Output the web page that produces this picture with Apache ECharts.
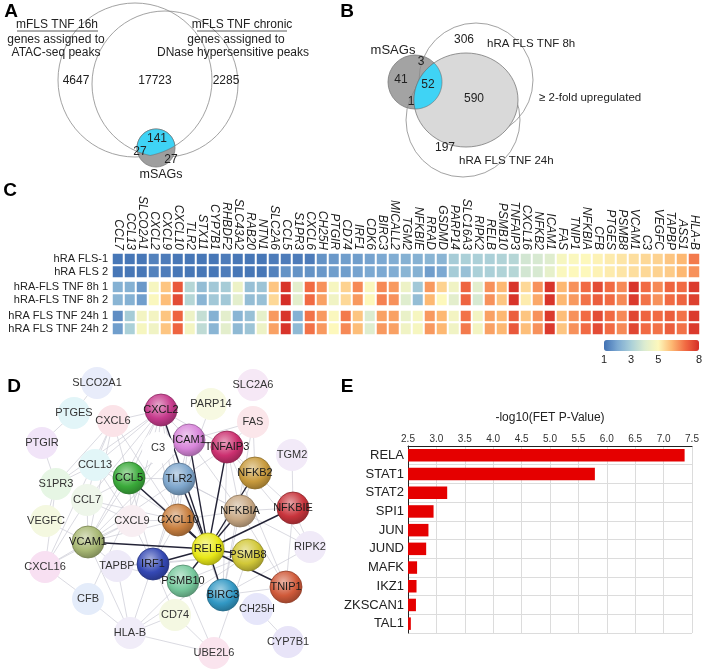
<!DOCTYPE html>
<html><head><meta charset="utf-8">
<script src="https://cdn.jsdelivr.net/npm/echarts@6/dist/echarts.min.js"></script>
<style>html,body{margin:0;padding:0;background:#fff}#c{width:708px;height:669px}</style>
</head><body><div id="c"></div>
<script>
// ---------------- DATA ----------------
const genes = ['CCL7','CCL13','SLCO2A1','CXCL2','CXCL9','CXCL10','TLR2','STX11','CYP7B1','RHBDF2','SLC43A2','RAB20','NTN1','SLC2A6','CCL5','S1PR3','CXCL6','CH25H','PTGIR','CD74','IRF1','CDK6','BIRC3','MICALL2','TGM2','NFKBIE','RRAD','GSDMD','PARP14','SLC16A3','RIPK2','RELB','PSMB10','TNFAIP3','CXCL16','NFKB2','ICAM1','FAS','TNIP1','NFKBIA','CFB','PTGES','PSMB8','VCAM1','C3','VEGFC','TAPBP','ASS1','HLA-B'];
const rowLabels = ['hRA FLS-1','hRA FLS 2','hRA-FLS TNF 8h 1','hRA-FLS TNF 8h 2','hRA FLS TNF 24h 1','hRA FLS TNF 24h 2'];
const rowFLS1 = [1.1,1.1,1.1,1.3,1.2,1.1,1.1,1.1,1.1,1.2,1.1,1.1,1.1,1.2,1.2,1.2,1.2,1.6,1.7,1.8,1.8,1.9,2.0,2.1,2.2,2.2,2.3,2.3,2.9,3.0,3.0,3.0,3.1,3.2,3.8,3.9,4.1,4.8,4.9,5.0,5.1,5.2,5.3,5.4,5.5,5.6,5.8,6.0,6.8];
const rowFLS2 = [1.1,1.1,1.1,1.3,1.2,1.1,1.1,1.1,1.1,1.2,1.1,1.1,1.1,1.3,1.6,1.6,1.6,1.7,1.8,1.8,1.9,2.0,2.0,2.1,2.3,2.2,1.8,2.0,2.9,2.6,3.0,3.0,3.1,3.2,3.8,3.9,4.3,4.9,5.0,5.0,5.1,5.2,5.3,5.4,5.5,5.6,5.7,6.0,6.5];
const rowTNF8h1 = [2.2,2.2,1.7,4.8,5.8,7.3,3.2,2.5,2.8,2.9,4.5,2.6,2.7,5.8,7.9,4.2,7.0,6.5,4.8,5.6,6.6,4.9,6.6,6.4,4.5,2.8,6.4,5.6,4.6,7.1,4.2,6.5,6.0,7.9,5.5,6.5,7.9,6.0,6.5,7.0,7.5,7.0,6.6,7.9,7.0,6.6,7.1,7.0,7.8];
const rowTNF8h2 = [2.3,2.2,1.8,4.9,5.9,7.5,3.2,2.3,2.8,2.8,4.2,2.5,2.6,5.5,8.0,4.2,7.0,6.3,4.6,5.5,6.4,5.0,6.7,6.5,4.1,2.5,6.0,5.0,4.2,7.1,3.9,6.5,5.8,7.9,5.2,6.2,7.9,6.0,6.4,6.9,7.2,7.0,6.6,7.8,6.9,6.5,7.0,7.1,7.7];
const rowTNF24h1 = [1.5,2.9,4.7,4.7,5.8,7.1,4.5,3.5,2.2,4.2,2.3,2.6,4.3,6.4,7.9,2.2,6.9,6.4,4.9,6.8,5.8,4.0,6.3,6.3,4.4,4.8,6.4,6.0,4.7,6.9,4.7,6.3,6.0,7.2,5.8,6.5,7.8,5.9,6.5,7.0,7.5,7.0,6.6,7.6,7.1,7.0,7.2,6.9,7.8];
const rowTNF24h2 = [1.8,3.0,4.8,4.6,5.8,7.1,4.7,3.4,2.3,4.2,2.4,2.7,4.5,6.3,7.9,2.4,6.9,6.4,5.0,6.6,5.9,4.1,6.4,6.3,4.6,4.8,6.4,6.0,4.6,6.8,4.7,6.3,6.0,7.3,5.9,6.5,7.8,5.8,6.5,7.0,7.5,7.0,6.6,7.6,7.0,6.9,7.2,6.9,7.8];
const colorbarTicks = [1,3,5,8];

const tfNames = ['RELA','STAT1','STAT2','SPI1','JUN','JUND','MAFK','IKZ1','ZKSCAN1','TAL1'];
const tfValues = [7.37,5.79,3.19,2.95,2.86,2.82,2.66,2.65,2.64,2.55];

const vennACounts = [4647,17723,2285,141,27,27];
const vennBCounts = [306,3,41,52,590,1,197];

const netNodes = ['SLCO2A1','SLC2A6','PARP14','PTGES','CXCL6','CXCL2','FAS','ICAM1','TNFAIP3','PTGIR','C3','TGM2','CCL13','CCL5','TLR2','NFKB2','S1PR3','CCL7','NFKBIE','NFKBIA','CXCL10','CXCL9','VEGFC','VCAM1','RELB','PSMB8','RIPK2','IRF1','TAPBP','CXCL16','PSMB10','TNIP1','BIRC3','CFB','CH25H','CD74','HLA-B','CYP7B1','UBE2L6'];
const netX = [97,253,211,74,113,161,253,189,227,42,158,292,95,129,179,255,56,87,293,240,178,132,46,88,208,248,310,153,117,45,183,286,223,88,257,175,130,288,214];
const netY = [383,385,404,413,421,410,422,440,447,443,448,455,465,478,479,473,484,500,508,511,520,521,521,542,549,555,547,564,566,567,581,587,595,599,609,615,633,642,653];
const netColors = ['#e8ecfa','#f6e8f6','#f7f9e2','#e2f5f8','#fbe3e8','#c63a8c','#fbe6ea','#d886da','#cc3070','#f1e4f8','#ffffff','#f2eaf8','#e2f6f8','#3aaa3a','#7ea6cc','#c89a3c','#e6f6e4','#eef6ea','#c8343c','#c8a884','#c98040','#f8eef2','#f4f8e0','#a8b874','#e8e818','#d2c838','#f0eaf8','#3448b4','#eeeaf8','#f8e0f2','#76c89c','#d05a3a','#3298c4','#e4ecfa','#e6e6fa','#f4f8e2','#f0ecf8','#e8e4f8','#fae4ee'];
const netStrong = ['CXCL2','ICAM1','TNFAIP3','CCL5','TLR2','NFKB2','NFKBIE','NFKBIA','CXCL10','VCAM1','RELB','PSMB8','IRF1','PSMB10','TNIP1','BIRC3'];
const hubEdges = ['CXCL2','ICAM1','TNFAIP3','TLR2','CCL5','CXCL10','NFKB2','NFKBIA','NFKBIE','PSMB8','TNIP1','BIRC3','PSMB10','IRF1','VCAM1'];
const grayEdges = [
 ['CXCL2','CXCL6'],['CXCL2','CCL5'],['CXCL2','CXCL10'],['CXCL2','ICAM1'],['CXCL2','TLR2'],['CXCL2','C3'],['CXCL2','CCL7'],['CXCL2','CCL13'],['CXCL2','VCAM1'],['CXCL2','TNFAIP3'],['CXCL2','CXCL9'],['CXCL2','S1PR3'],
 ['CXCL6','CCL5'],['CXCL6','CXCL10'],['CXCL6','CCL13'],['CXCL6','S1PR3'],['CXCL6','VCAM1'],['CXCL6','CXCL16'],['PTGES','PTGIR'],['PTGES','SLCO2A1'],['PTGIR','S1PR3'],
 ['S1PR3','CXCL16'],['S1PR3','VEGFC'],['S1PR3','CCL13'],['CCL13','CCL5'],['CCL13','CCL7'],['CCL13','CXCL9'],['CCL13','CXCL10'],['CCL7','CCL5'],['CCL7','CXCL9'],['CCL7','CXCL10'],['CCL7','VCAM1'],['CCL7','CXCL16'],
 ['CCL5','CXCL9'],['CCL5','CXCL10'],['CCL5','TLR2'],['CCL5','VCAM1'],['CCL5','ICAM1'],['CCL5','IRF1'],['CXCL9','CXCL10'],['CXCL9','IRF1'],['CXCL9','VCAM1'],['CXCL9','CXCL16'],
 ['CXCL10','IRF1'],['CXCL10','TLR2'],['CXCL10','ICAM1'],['CXCL10','VCAM1'],['CXCL10','NFKBIA'],['VCAM1','ICAM1'],['VCAM1','CXCL16'],['VCAM1','VEGFC'],['VCAM1','TAPBP'],['VCAM1','HLA-B'],['VCAM1','TNFAIP3'],
 ['ICAM1','TNFAIP3'],['ICAM1','TLR2'],['ICAM1','NFKBIA'],['ICAM1','FAS'],['TNFAIP3','NFKBIA'],['TNFAIP3','TNIP1'],['TNFAIP3','NFKB2'],['TNFAIP3','BIRC3'],['TNFAIP3','RIPK2'],
 ['NFKB2','NFKBIA'],['NFKB2','NFKBIE'],['NFKBIA','NFKBIE'],['NFKBIA','BIRC3'],['NFKBIA','TNIP1'],['NFKBIE','RIPK2'],['NFKBIE','TNIP1'],['FAS','TNFAIP3'],['FAS','BIRC3'],['PARP14','IRF1'],
 ['TLR2','NFKBIA'],['TLR2','IRF1'],['TLR2','BIRC3'],['TLR2','RIPK2'],['IRF1','PSMB10'],['IRF1','PSMB8'],['IRF1','TAPBP'],['IRF1','HLA-B'],['IRF1','CD74'],['PSMB10','PSMB8'],['PSMB10','TAPBP'],
 ['PSMB10','HLA-B'],['PSMB10','UBE2L6'],['PSMB8','TAPBP'],['PSMB8','HLA-B'],['PSMB8','UBE2L6'],['TAPBP','HLA-B'],['CD74','HLA-B'],['CFB','HLA-B'],['C3','CFB'],['C3','CXCL10'],['CH25H','CYP7B1'],
 ['RIPK2','BIRC3'],['BIRC3','TNIP1'],['UBE2L6','HLA-B'],['UBE2L6','CD74'],['CFB','CXCL16'],['TGM2','NFKBIE'],['FAS','NFKB2']
];

// ---------------- HELPERS ----------------
const FONT = "'Liberation Sans', Arial, sans-serif";
function shade(hex, f) {
  const n = parseInt(hex.slice(1), 16);
  let c = [n >> 16, (n >> 8) & 255, n & 255];
  c = c.map(v => Math.round(f > 0 ? v + (255 - v) * f : v * (1 + f)));
  return 'rgb(' + c.join(',') + ')';
}
function inCircle(cx, cy, r) { return (x, y) => (x - cx) * (x - cx) + (y - cy) * (y - cy) <= r * r; }
function inEllipse(cx, cy, rx, ry) { return (x, y) => ((x - cx) / rx) ** 2 + ((y - cy) / ry) ** 2 <= 1; }
function regionPolygon(px, py, tests, n) {
  const pts = [];
  for (let i = 0; i < n; i++) {
    const a = 2 * Math.PI * i / n, dx = Math.cos(a), dy = Math.sin(a);
    const inside = t => tests.every(f => f(px + dx * t, py + dy * t));
    let lo = 0, hi = 200;
    for (let k = 0; k < 30; k++) { const m = (lo + hi) / 2; if (inside(m)) lo = m; else hi = m; }
    pts.push([px + dx * lo, py + dy * lo]);
  }
  return pts;
}
function txt(text, x, y, size, opt) {
  opt = opt || {};
  return { type: 'text', x: x, y: y, z: 10, silent: true, style: {
    text: String(text), font: (opt.bold ? 'bold ' : '') + size + 'px ' + FONT,
    fill: opt.color || '#222', textAlign: opt.align || 'center', textVerticalAlign: 'middle' } };
}
function uline(x1, x2, y) { return { type: 'line', z: 10, silent: true, shape: { x1: x1, y1: y, x2: x2, y2: y }, style: { stroke: '#333', lineWidth: 0.8 } }; }

// ---------------- VENN A/B ----------------
const graphics = [];
const stroke = '#8a8a8a';
// A
graphics.push({ type: 'circle', shape: { cx: 135, cy: 80, r: 77 }, style: { fill: 'none', stroke: stroke, lineWidth: 0.8 } });
graphics.push({ type: 'circle', shape: { cx: 165, cy: 84, r: 73 }, style: { fill: 'none', stroke: stroke, lineWidth: 0.8 } });
graphics.push({ type: 'circle', shape: { cx: 156, cy: 148, r: 19 }, style: { fill: '#9e9e9e', stroke: '#7a7a7a', lineWidth: 0.8 } });
graphics.push({ type: 'polygon', shape: { points: regionPolygon(156, 140, [inCircle(156, 148, 19), inCircle(135, 80, 77), inCircle(165, 84, 73)], 180) }, style: { fill: '#3fd3f5', stroke: '#6a6a6a', lineWidth: 0.6 } });
graphics.push(txt('mFLS TNF 16h', 57, 25, 12), uline(17, 98, 31));
graphics.push(txt('genes assigned to', 56, 40, 12), txt('ATAC-seq peaks', 56, 53, 12));
graphics.push(txt('mFLS TNF chronic', 242, 25, 12), uline(197, 287, 31));
graphics.push(txt('genes assigned to', 236, 40, 12), txt('DNase hypersensitive peaks', 233, 53, 12));
graphics.push(txt(vennACounts[0], 76, 81, 12), txt(vennACounts[1], 155, 81, 12), txt(vennACounts[2], 226, 81, 12));
graphics.push(txt(vennACounts[3], 157, 139, 12), txt(vennACounts[4], 140, 152, 12), txt(vennACounts[5], 171, 160, 12));
graphics.push(txt('mSAGs', 161, 175, 12.5));
// B
graphics.push({ type: 'circle', shape: { cx: 415, cy: 82, r: 27 }, style: { fill: '#a3a3a3', stroke: '#7a7a7a', lineWidth: 0.8 } });
graphics.push({ type: 'circle', shape: { cx: 476, cy: 80, r: 57 }, style: { fill: 'none', stroke: stroke, lineWidth: 0.8 } });
graphics.push({ type: 'circle', shape: { cx: 463, cy: 120, r: 57 }, style: { fill: 'none', stroke: stroke, lineWidth: 0.8 } });
graphics.push({ type: 'ellipse', shape: { cx: 466, cy: 100, rx: 52, ry: 47 }, style: { fill: '#d9d9d9', stroke: '#7a7a7a', lineWidth: 0.8 } });
graphics.push({ type: 'polygon', shape: { points: regionPolygon(430, 85, [inCircle(415, 82, 27), inEllipse(466, 100, 52, 47)], 180) }, style: { fill: '#3fd3f5', stroke: '#6a6a6a', lineWidth: 0.6 } });
graphics.push(txt('mSAGs', 393, 50, 13));
graphics.push(txt(vennBCounts[0], 464, 40, 12), txt('hRA FLS TNF 8h', 487, 44, 11.5, { align: 'left' }));
graphics.push(txt(vennBCounts[1], 421, 62, 12), txt(vennBCounts[2], 401, 80, 12), txt(vennBCounts[3], 428, 85, 12));
graphics.push(txt(vennBCounts[4], 474, 99, 12), txt(vennBCounts[5], 411, 102, 12));
graphics.push(txt('\u2265 2-fold upregulated', 539, 98, 11.5, { align: 'left' }));
graphics.push(txt(vennBCounts[6], 445, 148, 12), txt('hRA FLS TNF 24h', 459, 161, 11.5, { align: 'left' }));
// panel letters
graphics.push(txt('A', 11, 12, 19, { bold: true, color: '#000' }), txt('B', 347, 12, 19, { bold: true, color: '#000' }));
graphics.push(txt('C', 10, 191, 19, { bold: true, color: '#000' }), txt('D', 14, 387, 19, { bold: true, color: '#000' }));
graphics.push(txt('E', 347, 387, 19, { bold: true, color: '#000' }));

// ---------------- HEATMAP ----------------
const heatRows = [[rowFLS1, rowFLS2], [rowTNF8h1, rowTNF8h2], [rowTNF24h1, rowTNF24h2]];
const heatTops = [253, 281, 310];
const grids = [], xAxes = [], yAxes = [], series = [];
heatRows.forEach((pair, g) => {
  grids.push({ left: 112, width: 588, top: heatTops[g], height: 25 });
  xAxes.push({ type: 'category', gridIndex: g, data: genes, position: 'top', show: g === 0,
    axisLine: { show: false }, axisTick: { show: false },
    axisLabel: { rotate: 90, interval: 0, fontStyle: 'italic', fontSize: 12, margin: 3, color: '#222', fontFamily: FONT } });
  yAxes.push({ type: 'category', gridIndex: g, inverse: true, data: rowLabels.slice(g * 2, g * 2 + 2),
    axisLine: { show: false }, axisTick: { show: false },
    axisLabel: { interval: 0, fontSize: 11, margin: 4, color: '#222', fontFamily: FONT } });
  const d = [];
  pair.forEach((row, r) => row.forEach((v, c) => d.push([c, r, v])));
  series.push({ type: 'heatmap', xAxisIndex: g, yAxisIndex: g, data: d,
    itemStyle: { borderColor: '#fff', borderWidth: 2 }, emphasis: { disabled: true } });
});

// ---------------- BAR E ----------------
grids.push({ left: 408, right: 16, top: 446, height: 187 });
xAxes.push({ type: 'value', gridIndex: 3, position: 'top', min: 2.5, max: 7.5, interval: 0.5,
  name: '-log10(FET P-Value)', nameLocation: 'middle', nameGap: 22,
  nameTextStyle: { fontSize: 12, color: '#222', fontFamily: FONT },
  axisLine: { show: true, lineStyle: { color: '#222' } }, axisTick: { show: false },
  axisLabel: { fontSize: 10, margin: 2, color: '#333', fontFamily: FONT, formatter: v => v.toFixed(1) },
  splitLine: { show: true, lineStyle: { color: '#dcdcdc' } } });
yAxes.push({ type: 'category', gridIndex: 3, inverse: true, data: tfNames,
  axisLine: { show: true, lineStyle: { color: '#222' } }, axisTick: { show: false },
  axisLabel: { interval: 0, fontSize: 13, margin: 4, color: '#222', fontFamily: FONT },
  splitLine: { show: true, interval: 0, lineStyle: { color: '#dcdcdc' } } });
series.push({ type: 'bar', xAxisIndex: 3, yAxisIndex: 3, data: tfValues, barWidth: 12.5,
  itemStyle: { color: '#e50000' }, emphasis: { disabled: true } });

// ---------------- COLORBAR LABELS ----------------
grids.push({ left: 604, width: 95, top: 340, height: 11 });
xAxes.push({ type: 'value', gridIndex: 4, min: 1, max: 8, interval: 1,
  axisLine: { show: false }, axisTick: { show: false }, splitLine: { show: false },
  axisLabel: { fontSize: 11, margin: 3, color: '#222', fontFamily: FONT,
    formatter: v => colorbarTicks.includes(v) ? String(v) : '' } });
yAxes.push({ type: 'value', gridIndex: 4, show: false });
series.push({ type: 'scatter', xAxisIndex: 4, yAxisIndex: 4, data: [] });

// ---------------- NETWORK D ----------------
const minX = Math.min(...netX), maxX = Math.max(...netX), minY = Math.min(...netY), maxY = Math.max(...netY);
const nodeData = netNodes.map((n, i) => {
  const strong = netStrong.includes(n);
  const col = netColors[i];
  return { name: n, x: netX[i], y: netY[i], symbolSize: 32,
    itemStyle: strong ? { color: { type: 'radial', x: 0.42, y: 0.35, r: 0.75, colorStops: [
      { offset: 0, color: shade(col, 0.55) }, { offset: 0.55, color: col }, { offset: 1, color: shade(col, -0.35) }] },
      borderColor: shade(col, -0.3), borderWidth: 0.8 } : { color: col, borderWidth: 0 },
    label: { show: true, position: 'inside', fontSize: 11, color: strong ? '#1a1a1a' : '#333', fontFamily: FONT } };
});
const links = grayEdges.map(e => ({ source: e[0], target: e[1], lineStyle: { color: '#cfcfd8', width: 0.9, opacity: 0.85 } }))
  .concat(hubEdges.map(t => ({ source: 'RELB', target: t, lineStyle: { color: '#232336', width: 1.4, opacity: 1 } })));
series.push({ type: 'graph', layout: 'none', roam: false, left: minX, top: minY, width: maxX - minX, height: maxY - minY,
  data: nodeData, links: links, emphasis: { disabled: true }, z: 3 });

// ---------------- CHART ----------------
const chart = echarts.init(document.getElementById('c'), null, { renderer: 'canvas' });
chart.setOption({
  backgroundColor: '#fff',
  animation: false,
  textStyle: { fontFamily: FONT },
  grid: grids, xAxis: xAxes, yAxis: yAxes,
  visualMap: { type: 'continuous', min: 1, max: 8, seriesIndex: [0, 1, 2], orient: 'horizontal',
    left: 604, top: 340, itemWidth: 11, itemHeight: 95, padding: 0, calculable: false, hoverLink: false,
    text: null, inRange: { color: ['#4171b4', '#7ca9d2', '#abd0d8', '#dcecd0', '#fdf8bc', '#fdb872', '#f16a43', '#d52e27'] } },
  graphic: { elements: graphics },
  series: series
});
</script></body></html>
